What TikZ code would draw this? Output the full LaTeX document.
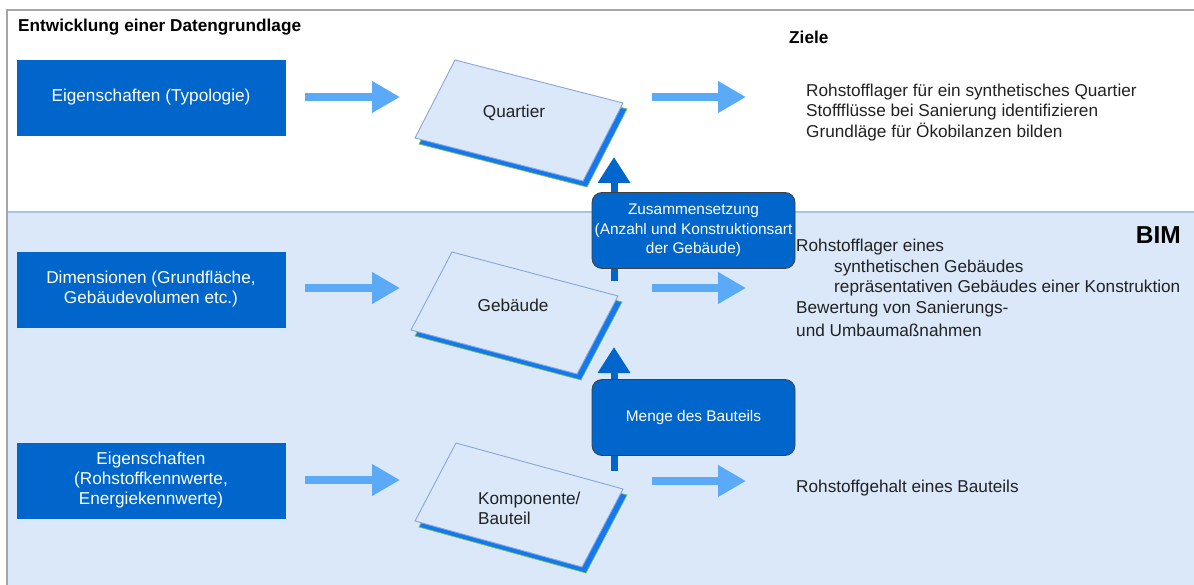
\documentclass[tikz,border=0pt]{standalone}
\usepackage{fontspec}
\setmainfont{Liberation Sans}
\usetikzlibrary{arrows.meta}

\definecolor{boxblue}{HTML}{0066CC}
\definecolor{lightarrow}{HTML}{5AAAF8}
\definecolor{bimfill}{HTML}{DAE8FA}
\definecolor{sepline}{HTML}{A8C2E6}
\definecolor{framegray}{HTML}{A6A6A6}
\definecolor{sheetedge}{HTML}{8AA6D6}
\definecolor{sheetshadow}{HTML}{1478F0}
\definecolor{shadowrim}{HTML}{7CC24E}
\definecolor{textgray}{HTML}{222222}

\newcommand{\txtsize}{\fontsize{17.2}{20}\selectfont}
\newcommand{\notesize}{\fontsize{15.4}{19.5}\selectfont}

\begin{document}
\begin{tikzpicture}[x=1pt,y=-1pt,
  inputbox/.style={rectangle, fill=boxblue, draw=boxblue, minimum width=268pt,
    minimum height=75pt, text=white, align=center, font=\txtsize, inner sep=0pt},
  notebox/.style={rectangle, rounded corners=10pt, fill=boxblue, draw=black!75,
    line width=0.8pt, minimum width=203pt, minimum height=76pt, text=white,
    align=center, font=\notesize, inner sep=0pt},
  blockarrow/.style={lightarrow, line width=8.5pt, -{Triangle[length=28pt,width=30pt]}},
  uparrow/.style={boxblue, line width=7pt, -{Triangle[length=26pt,width=31pt]}},
  sheet/.style={fill=bimfill, draw=sheetedge, line width=0.9pt},
  sheetshade/.style={fill=sheetshadow, draw=shadowrim, line width=0.7pt},
  sheettext/.style={text=textgray, font=\txtsize, align=left, inner sep=0pt},
  goal/.style={anchor=west, text=textgray, font=\txtsize, inner sep=0pt},
  heading/.style={anchor=west, text=black, font=\txtsize\bfseries, inner sep=0pt}
]
\useasboundingbox (0,0) rectangle (1194,585);

% page background, BIM band and frame
\fill[white] (0,0) rectangle (1194,585);
\fill[bimfill] (8,212) rectangle (1194,585);
\draw[sepline, line width=2pt] (8,212) -- (1194,212);
\draw[framegray, line width=2pt] (7,585) -- (7,10) -- (1194,10);

% headings
\node[heading] (title) at (18,27) {Entwicklung einer Datengrundlage};
\node[heading] (ziele) at (789,37) {Ziele};
\node[anchor=east, font=\fontsize{24.5}{28}\selectfont\bfseries, inner sep=0pt] (bim) at (1181,235) {BIM};

% input boxes
\node[inputbox] (typ) at (151,97.5) {Eigenschaften (Typologie)};
\node[inputbox] (dim) at (151,289.5) {Dimensionen (Grundfläche,\\Gebäudevolumen etc.)};
\node[inputbox] (kenn) at (151,480.5) {Eigenschaften\\(Rohstoffkennwerte,\\Energiekennwerte)};

% arrow end points
\coordinate (a1s) at (305,97);  \coordinate (a1e) at (400,97);
\coordinate (a2s) at (305,288); \coordinate (a2e) at (400,288);
\coordinate (a3s) at (305,480); \coordinate (a3e) at (400,480);
\coordinate (b1s) at (652,97);  \coordinate (b1e) at (746,97);
\coordinate (b2s) at (652,288); \coordinate (b2e) at (746,288);
\coordinate (b3s) at (652,481); \coordinate (b3e) at (746,481);

\foreach \s/\e in {a1s/a1e,a2s/a2e,a3s/a3e,b1s/b1e,b2s/b2e,b3s/b3e}
  \draw[blockarrow] (\s) -- (\e);

% tilted sheets: Quartier, Gebäude, Komponente
\coordinate (q1) at (455,60);  \coordinate (q2) at (623,103);
\coordinate (q3) at (583,181); \coordinate (q4) at (415,138);
\coordinate (g1) at (452,252); \coordinate (g2) at (618,296);
\coordinate (g3) at (577,374); \coordinate (g4) at (411,330);
\coordinate (k1) at (456,443); \coordinate (k2) at (623,489);
\coordinate (k3) at (582,567); \coordinate (k4) at (415,521);

\foreach \p in {q,g,k}{
  \filldraw[sheetshade] ([shift={(4,6)}]\p1) -- ([shift={(4,6)}]\p2)
    -- ([shift={(4,6)}]\p3) -- ([shift={(4,6)}]\p4) -- cycle;
  \filldraw[sheet] (\p1) -- (\p2) -- (\p3) -- (\p4) -- cycle;
}

\node[sheettext] (quartier) at (514,113) {Quartier};
\node[sheettext] (gebaeude) at (513,305) {Gebäude};
\node[sheettext, anchor=west] (komp) at (478,508) {Komponente/\\Bauteil};

% aggregation arrows
\coordinate (u1s) at (614,281); \coordinate (u1e) at (614,157);
\coordinate (u2s) at (614,471); \coordinate (u2e) at (614,347);
\draw[uparrow] (u1s) -- (u1e);
\draw[uparrow] (u2s) -- (u2e);

\node[notebox] (zus) at (693.5,230.5) {Zusammensetzung\\(Anzahl und Konstruktionsart\\der Gebäude)};
\node[notebox] (menge) at (693.5,417.5) {Menge des Bauteils};

% goals
\node[goal] (z1) at (806,92)  {Rohstofflager für ein synthetisches Quartier};
\node[goal] (z2) at (806,112) {Stoffflüsse bei Sanierung identifizieren};
\node[goal] (z3) at (806,132) {Grundläge für Ökobilanzen bilden};

\node[goal] (g1t) at (796,247) {Rohstofflager eines};
\node[goal] (g2t) at (834,268) {synthetischen Gebäudes};
\node[goal] (g3t) at (834,288) {repräsentativen Gebäudes einer Konstruktion};
\node[goal] (g4t) at (796,309) {Bewertung von Sanierungs-};
\node[goal] (g5t) at (796,330) {und Umbaumaßnahmen};

\node[goal] (k1t) at (796,488) {Rohstoffgehalt eines Bauteils};
\end{tikzpicture}
\end{document}
